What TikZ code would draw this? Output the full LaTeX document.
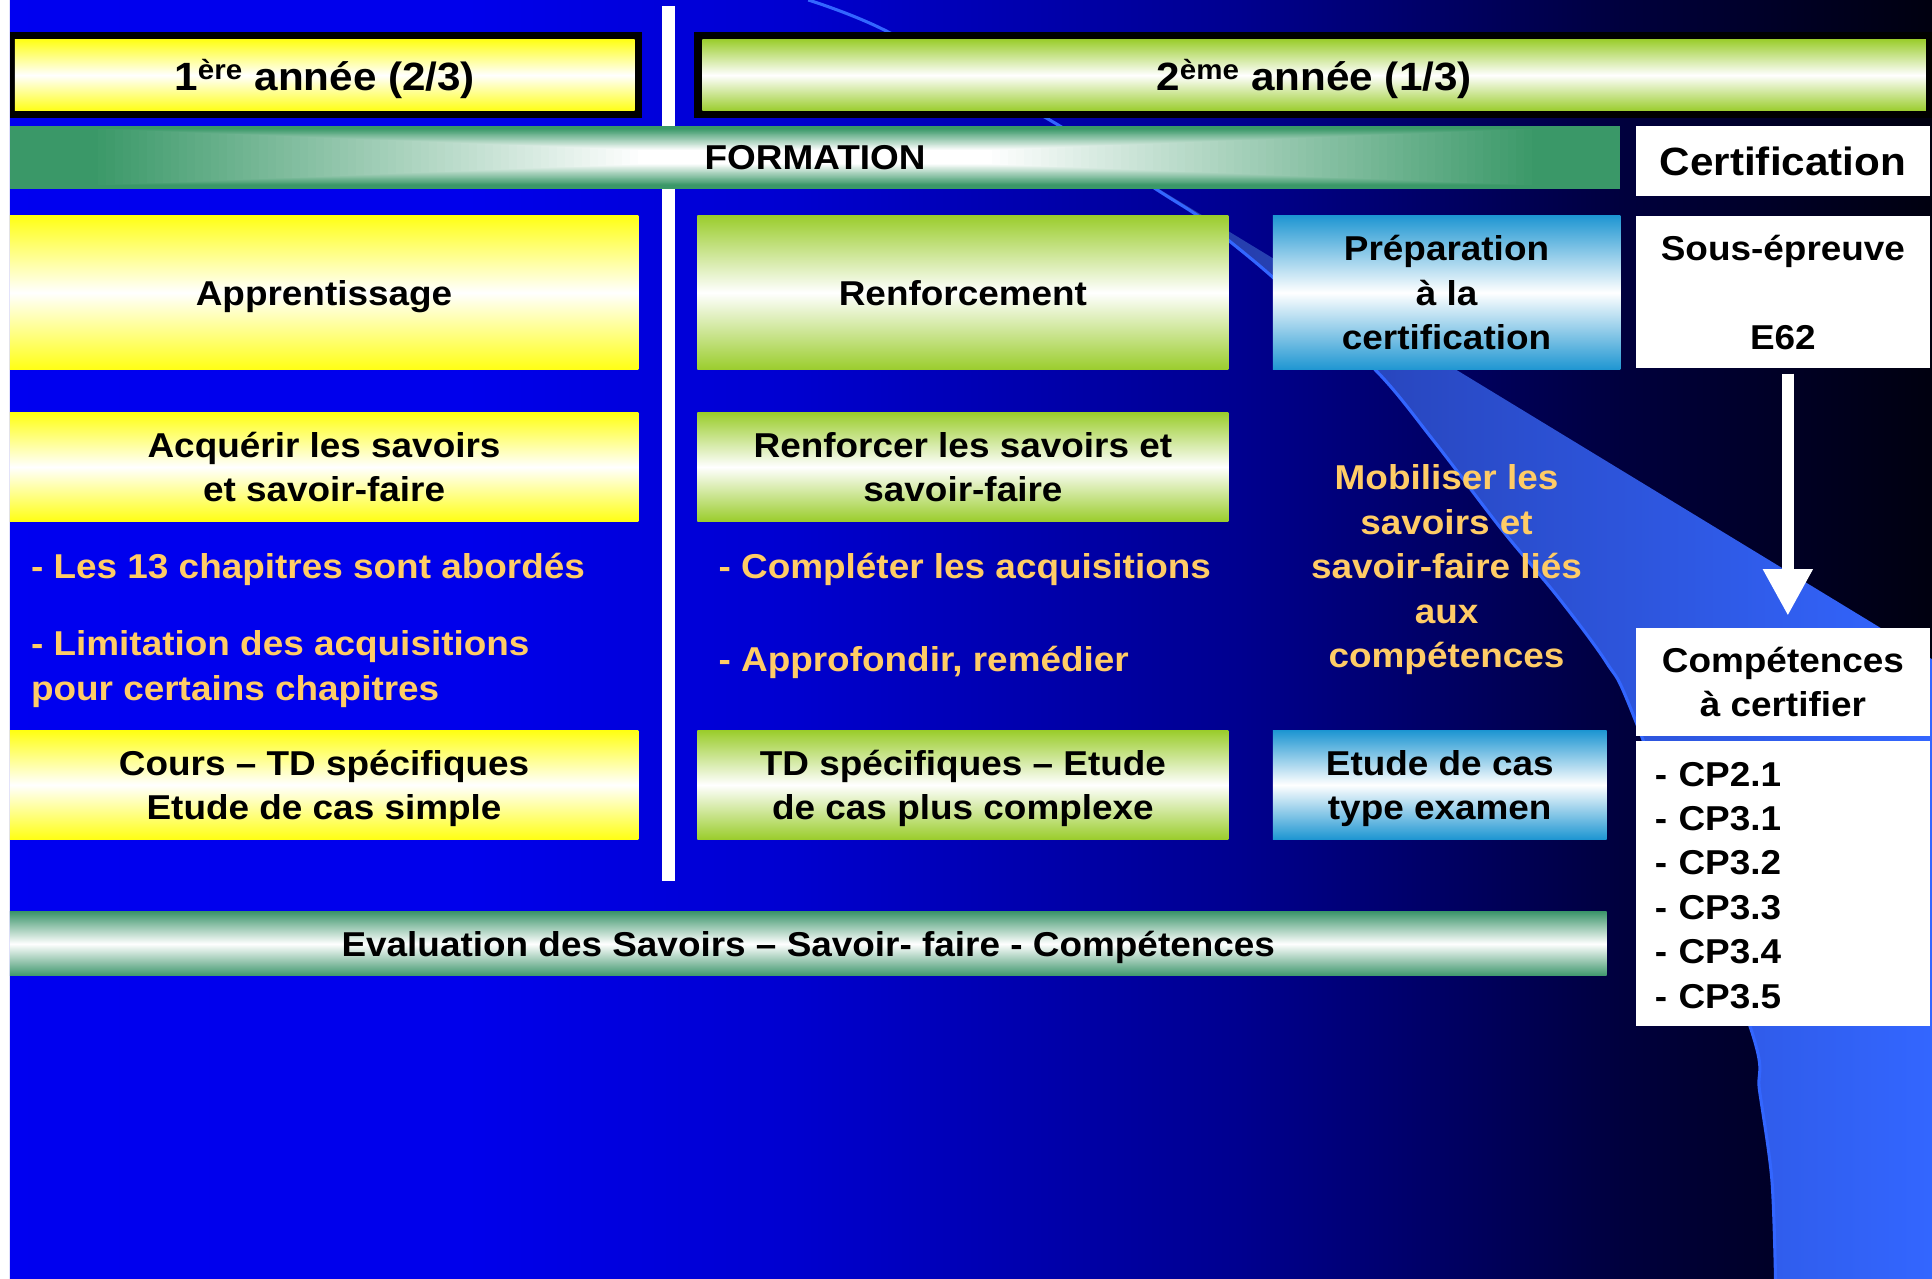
\documentclass[tikz,border=0pt]{standalone}
\usepackage{fontspec}
\newfontfamily\arb{Liberation Sans Bold}[FakeStretch=1.07]
\usetikzlibrary{arrows.meta}
\definecolor{ylw}{RGB}{255,255,20}
\definecolor{grn}{RGB}{155,205,45}
\definecolor{blu}{RGB}{30,150,210}
\definecolor{fgreen}{RGB}{58,152,104}
\definecolor{egreen}{RGB}{62,150,108}
\definecolor{orng}{RGB}{255,204,102}
\definecolor{swoosh}{RGB}{51,102,255}
\definecolor{swooshdark}{RGB}{36,58,165}
\pgfdeclarehorizontalshading{bgshade}{100bp}{rgb(0bp)=(0,0,0.94); rgb(25bp)=(0,0,0.94); rgb(37bp)=(0,0,0.92); rgb(45bp)=(0,0,0.82); rgb(57bp)=(0,0,0.56); rgb(67bp)=(0,0,0.24); rgb(75bp)=(0,0,0.06); rgb(100bp)=(0,0,0.06)}
\begin{document}
\begin{tikzpicture}[x=1pt,y=-1pt,
  every node/.style={font=\arb\fontsize{28}{36}\selectfont, inner sep=0pt, align=center, text depth=0pt},
  ybox/.style={shade, top color=ylw, bottom color=ylw, middle color=white},
  gbox/.style={shade, top color=grn, bottom color=grn, middle color=white},
  bluebox/.style={shade, top color=blu, bottom color=blu, middle color=white},
  wbox/.style={fill=white},
  otext/.style={text=orng},
  big/.style={font=\arb\fontsize{32}{38}\selectfont}
]
\useasboundingbox (0,0) rectangle (1568,1038);
% background
\fill[white] (0,0) rectangle (1568,1038);
\shade[shading=bgshade] (8,0) rectangle (1568,1038);
% swoosh
\shade[left color=swooshdark, right color=swoosh]
  (940,153) -- (1568,535) -- (1568,1038) -- (1441,1038)
  -- plot[smooth, tension=0.5] coordinates {(1441,1038) (1438,957) (1428,885) (1420,832) (1327,584) (1304,538) (1264,484) (1219,430) (1163,357) (1116,300) (1033,225) (997,195) (972,175) (940,155)}
  -- cycle;
\draw[swoosh, line width=2.5pt] plot[smooth, tension=0.5] coordinates {(656,0) (717,24) (853,98) (939,154) (972,175) (997,195) (1033,225) (1116,300) (1163,357) (1219,430) (1264,484) (1304,538) (1327,584) (1420,832) (1428,885) (1438,957) (1441,1038)};
% divider
\fill[white] (537,5) rectangle (548,715);
% headers
\fill[black] (8,26) rectangle (521,96);
\node[ybox, minimum width=503, minimum height=58, big] (y1) at (263.5,61) {1\textsuperscript{ère} année (2/3)};
\fill[black] (563,26) rectangle (1568,96);
\node[gbox, minimum width=993, minimum height=58, big] (y2) at (1066.5,61) {2\textsuperscript{ème} année (1/3)};
% FORMATION bar
\foreach \k in {0,...,99}{
  \pgfmathsetmacro\s{1-\k/100}
  \pgfmathsetmacro\p{min(100,max(0,100*(0.78-\k/100)/0.68))}
  \fill[fgreen!\p!white] ({661.5-653.5*\s},{127.5-25.5*\s}) rectangle ({661.5+653.5*\s},{127.5+25.5*\s});
}
\node (form) at (661.5,128) {FORMATION};
\node[wbox, minimum width=238, minimum height=57, big] (cert) at (1447,130.5) {Certification};
% row 2
\node[ybox, minimum width=510, minimum height=125] (appr) at (263,237.5) {Apprentissage};
\node[gbox, minimum width=431, minimum height=125] (renf) at (781.5,237.5) {Renforcement};
\node[bluebox, minimum width=282, minimum height=125] (prep) at (1174,237.5) {Préparation\\à la\\certification};
\node[wbox, minimum width=238, minimum height=124] (sous) at (1447,237) {Sous-épreuve\\[36pt]E62};
% row 3
\node[ybox, minimum width=510, minimum height=88] (acq) at (263,379) {Acquérir les savoirs\\et savoir-faire};
\node[gbox, minimum width=431, minimum height=88] (renf2) at (781.5,379) {Renforcer les savoirs et\\savoir-faire};
% orange texts
\node[otext, anchor=west] (t1) at (25,459) {- Les 13 chapitres sont abordés};
\node[otext, anchor=west, align=left] (t2) at (25,540) {- Limitation des acquisitions\\pour certains chapitres};
\node[otext, anchor=west] (t3) at (583,459) {- Compléter les acquisitions};
\node[otext, anchor=west] (t4) at (583,535) {- Approfondir, remédier};
\node[otext] (t5) at (1174,459.5) {Mobiliser les\\savoirs et\\savoir-faire liés\\aux\\compétences};
% row 4
\node[ybox, minimum width=510, minimum height=88] (cours) at (263,637) {Cours – TD spécifiques\\Etude de cas simple};
\node[gbox, minimum width=431, minimum height=88] (td) at (781.5,637) {TD spécifiques – Etude\\de cas plus complexe};
\node[bluebox, minimum width=271, minimum height=88] (etude) at (1168.5,637) {Etude de cas\\type examen};
% evaluation
\node[shade, top color=egreen, bottom color=egreen, middle color=white, minimum width=1296, minimum height=52] (eval) at (656,766) {Evaluation des Savoirs – Savoir- faire - Compétences};
% certification column
\node[wbox, minimum width=238, minimum height=87] (comp) at (1447,553.5) {Compétences\\à certifier};
\fill[white] (1328,601) rectangle (1566,833);
\node[text depth={}, text width=208, align=left] (cp) at (1447,718.5) {- CP2.1\\- CP3.1\\- CP3.2\\- CP3.3\\- CP3.4\\- CP3.5};
\draw[white, line width=10pt, -{Triangle[width=38pt,length=38pt]}, shorten <=4pt, shorten >=10pt] ([xshift=4pt]sous.south) -- ([xshift=4pt]comp.north);
\end{tikzpicture}
\end{document}
